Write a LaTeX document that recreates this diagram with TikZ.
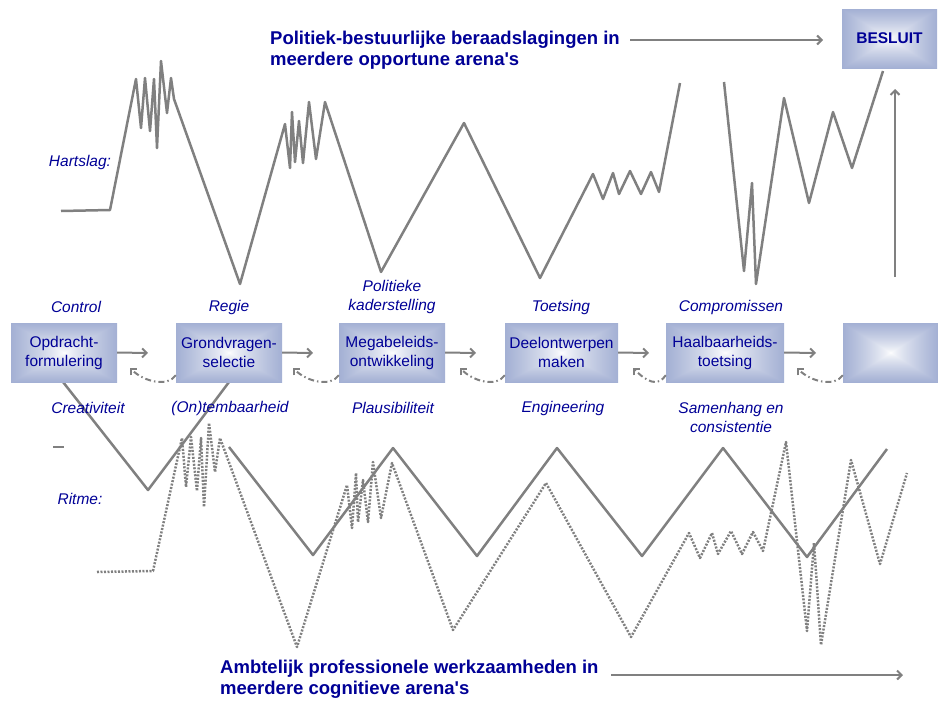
\documentclass[tikz,border=0pt]{standalone}
\usepackage{fontspec}
\setmainfont{Liberation Sans}
\usetikzlibrary{arrows.meta,calc}
\definecolor{tekstblauw}{RGB}{0,0,150}
\definecolor{lijngrijs}{RGB}{128,128,128}
\pgfdeclarefunctionalshading{boxglow}{\pgfpoint{-50bp}{-50bp}}{\pgfpoint{50bp}{50bp}}{}{
abs exch abs 2 copy lt {exch} if pop
25 div dup 1 gt {pop 1} if 0.75 exp
dup 0.36 mul 1 exch sub exch
dup 0.31 mul 1 exch sub exch
0.17 mul 1 exch sub
}
\begin{document}
\begin{tikzpicture}[x=1pt,y=-1pt,
    heart/.style={lijngrijs, line width=2.5pt, line join=round},
    rhythm/.style={lijngrijs, line width=2.5pt, line join=round, dash pattern=on 2pt off 1.5pt},
    flow/.style={lijngrijs, line width=2pt, -{Straight Barb[length=4.5pt,width=9pt]}},
    back/.style={lijngrijs, line width=2pt, dash pattern=on 6pt off 3pt on 1.5pt off 3pt, -{Straight Barb[length=4.5pt,width=9pt]}},
    procbox/.style={shade, shading=boxglow, minimum height=59pt, inner sep=0pt, align=center, text=tekstblauw, font=\fontsize{15.5}{19}\selectfont},
    lbl/.style={text=tekstblauw, align=center, inner sep=0pt, font=\fontsize{15.5}{19}\selectfont\itshape},
    ttl/.style={text=tekstblauw, align=left, anchor=west, inner sep=0pt, font=\fontsize{18.5}{21}\selectfont\bfseries}]
            \useasboundingbox (0,0) rectangle (938,702);
            % hartslag
            \draw (61,211)--(110,210)--(136,79)--(141,128)--(145,78)--(150,131)--(154,79)--(157,148)--(161,61)--(167,113)--(171,78)--(174,99)--(240,284)--(285,124)--(290,168)--(292,112)--(295,162)--(299,121)--(303,163)--(309,102)--(316,159)--(325,102)--(381,272)--(464,123)--(540,278)--(593,174)--(603,199)--(613,173)--(619,194)--(630,171)--(641,194)--(651,172)--(659,192)--(680,83)[heart];
            \draw (724,82)--(744,271)--(752,183)--(756,284)--(784,98)--(809,203)--(833,112)--(852,168)--(883,71)[heart];
            % ritme
            \draw (63,382)--(148,490)--(229,382)[heart];
            \draw (229,447)--(313,555)--(393,448)--(477,556)--(557,448)--(642,556)--(723,448)--(807,557)--(887,449)[heart];
            \draw (97,572)--(153,571)--(182,438)--(186,487)--(191,437)--(197,491)--(201,438)--(204,507)--(209,423)--(215,472)--(220,438)--(297,647)--(347,485)--(352,528)--(356,473)--(358,522)--(363,480)--(368,522)--(373,462)--(381,518)--(392,463)--(453,630)--(546,483)--(631,637)--(689,533)--(700,558)--(712,533)--(718,554)--(731,531)--(742,554)--(753,532)--(763,551)--(786,442)--(807,631)--(814,543)--(821,645)--(851,460)--(880,564)--(907,473)[rhythm];
            \draw (53,447)--(64,447)[heart];
            % stappen
            \draw (64,352.5)node(opdracht)[procbox, minimum width=106pt]{Opdracht-\\formulering};
            \draw (229,352.5)node(grondvragen)[procbox, minimum width=106pt]{Grondvragen-\\selectie};
            \draw (392,352.5)node(megabeleid)[procbox, minimum width=106pt]{Megabeleids-\\ontwikkeling};
            \draw (561.5,352.5)node(deelontwerp)[procbox, minimum width=113pt]{Deelontwerpen\\maken};
            \draw (725,352.5)node(haalbaar)[procbox, minimum width=118pt]{Haalbaarheids-\\toetsing};
            \draw (890.5,352.5)node(leeg)[procbox, minimum width=95pt]{};
            \draw (889.5,38.5)node(besluit)[procbox, minimum width=95pt, font=\fontsize{15.5}{19}\selectfont\bfseries]{BESLUIT};
            % pijlen
            \coordinate (f1) at (148,353);
            \coordinate (f2) at (313,353);
            \coordinate (f3) at (476,353);
            \coordinate (f4) at (649,353);
            \coordinate (f5) at (816,353);
            \draw (opdracht.east)--(f1)[flow];
            \draw (grondvragen.east)--(f2)[flow];
            \draw (megabeleid.east)--(f3)[flow];
            \draw (deelontwerp.east)--(f4)[flow];
            \draw (haalbaar.east)--(f5)[flow];
            \coordinate (b1) at (130,368);
            \coordinate (b2) at (293,368);
            \coordinate (b3) at (460,368);
            \coordinate (b4) at (633,368);
            \coordinate (b5) at (797,368);
            \draw ($(grondvragen.south west)+(0,-7)$) .. controls +(-8,12) and +(14,14) .. (b1)[back];
            \draw ($(megabeleid.south west)+(0,-7)$) .. controls +(-8,12) and +(14,14) .. (b2)[back];
            \draw ($(deelontwerp.south west)+(0,-7)$) .. controls +(-8,12) and +(14,14) .. (b3)[back];
            \draw ($(haalbaar.south west)+(0,-7)$) .. controls +(-8,12) and +(14,14) .. (b4)[back];
            \draw ($(leeg.south west)+(0,-7)$) .. controls +(-8,12) and +(14,14) .. (b5)[back];
            \coordinate (t1) at (630,40);
            \coordinate (t2) at (823,40);
            \draw (t1)--(t2)[flow];
            \coordinate (v1) at (895,277);
            \coordinate (v2) at (895,89);
            \draw (v1)--(v2)[flow];
            \coordinate (a1) at (611,675);
            \coordinate (a2) at (903,675);
            \draw (a1)--(a2)[flow];
            % teksten
            \draw (270,50.5)node(politiek)[ttl]{Politiek-bestuurlijke beraadslagingen in\\meerdere opportune arena\textquotesingle s};
            \draw (220,679.5)node(ambtelijk)[ttl]{Ambtelijk professionele werkzaamheden in\\meerdere cognitieve arena\textquotesingle s};
            \draw (80,162)node(hartslag)[lbl]{Hartslag:};
            \draw (80,499)node(ritme)[lbl]{Ritme:};
            \draw (76,307)node(control)[lbl]{Control};
            \draw (229,307)node(regie)[lbl]{Regie};
            \draw (392,297)node(kader)[lbl]{Politieke\\kaderstelling};
            \draw (561,307)node(toetsing)[lbl]{Toetsing};
            \draw (731,307)node(compromis)[lbl]{Compromissen};
            \draw (88,408)node(creatief)[lbl]{Creativiteit};
            \draw (230,408)node(tembaar)[lbl]{(On)tembaarheid};
            \draw (393,408)node(plausibel)[lbl]{Plausibiliteit};
            \draw (563,408)node(engineering)[lbl]{Engineering};
            \draw (731,417.5)node(samenhang)[lbl]{Samenhang en\\consistentie};
        \end{tikzpicture}
\end{document}
